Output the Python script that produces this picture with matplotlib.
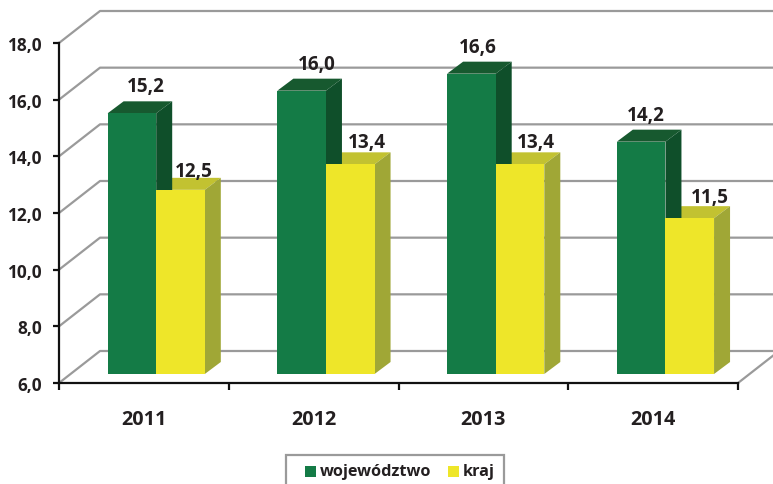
import matplotlib
matplotlib.use('Agg')
import numpy as np
import matplotlib.pyplot as plt
from matplotlib.patches import Polygon, Rectangle

plt.rcParams['font.family'] = ['Open Sans', 'DejaVu Sans']

years = ['2011', '2012', '2013', '2014']
wojewodztwo = [15.2, 16.0, 16.6, 14.2]
kraj = [12.5, 13.4, 13.4, 11.5]
y_ticks = [6, 8, 10, 12, 14, 16, 18]

W, H = 773, 485
LEFT, RIGHT, TOP, BOTTOM = 59, 738, 44, 384
TEXT = '#231f20'
GRID = '#9a9a9a'

fig = plt.figure(figsize=(W / 100, H / 100), dpi=100, facecolor='white')
ax = fig.add_axes([LEFT / W, 1 - BOTTOM / H, (RIGHT - LEFT) / W, (BOTTOM - TOP) / H])
ax.set_xlim(0, 4)
ax.set_ylim(6, 18)
ax.patch.set_alpha(0)

# pixel sizes expressed in data units
px_x = 4 / (RIGHT - LEFT)
px_y = 12 / (BOTTOM - TOP)
wall_dx, wall_dy = 41 * px_x, 32 * px_y
bar_w = 48.6 * px_x
bar_x0 = 48.6 * px_x
lift = 9 * px_y
side_dx, side_dy = 16 * px_x, 12 * px_y


# back wall / floor grid lines
for v in y_ticks:
    ax.plot([0, wall_dx, 4 + 2 * wall_dx], [v, v + wall_dy, v + wall_dy],
            color=GRID, lw=1.6, clip_on=False, zorder=1, solid_capstyle='butt')
ax.plot([4, 4 + wall_dx], [6, 6 + wall_dy], color=GRID, lw=1.6, clip_on=False, zorder=1)


def box(x, v, front, top, side):
    y0, y1 = 6 + lift, v + lift
    x1 = x + bar_w
    ax.add_patch(Polygon([(x, y1), (x1, y1), (x1 + side_dx, y1 + side_dy), (x + side_dx, y1 + side_dy)],
                         fc=top, ec='none', clip_on=False, zorder=3))
    ax.add_patch(Polygon([(x1, y0), (x1 + side_dx, y0 + side_dy), (x1 + side_dx, y1 + side_dy), (x1, y1)],
                         fc=side, ec='none', clip_on=False, zorder=3))
    ax.bar(x, v - 6, bottom=y0, width=bar_w, align='edge', color=front,
           edgecolor='none', clip_on=False, zorder=4)


# label offsets in pixels from the front top left corner of each bar
label_dx_g = [38, 39, 31, 29]
label_dx_k = [38, 41, 40, 44]
label_dy_k = [19, 22, 22, 21]
for i in range(4):
    xg = i + bar_x0
    xk = xg + bar_w
    box(xk, kraj[i], '#eee629', '#c2c231', '#a0a736')
    box(xg, wojewodztwo[i], '#147b46', '#17592f', '#0f4f2a')
    ax.annotate(f'{wojewodztwo[i]:.1f}'.replace('.', ','), (xg, wojewodztwo[i] + lift),
                xytext=(label_dx_g[i] * 0.72, 27 * 0.72), textcoords='offset points',
                ha='center', va='center', fontsize=13.6, fontweight='bold', color=TEXT,
                annotation_clip=False, zorder=6)
    ax.annotate(f'{kraj[i]:.1f}'.replace('.', ','), (xk, kraj[i] + lift),
                xytext=(label_dx_k[i] * 0.72, label_dy_k[i] * 0.72), textcoords='offset points',
                ha='center', va='center', fontsize=13.6, fontweight='bold', color=TEXT,
                annotation_clip=False, zorder=6)

for s in ['top', 'right']:
    ax.spines[s].set_visible(False)
for s in ['left', 'bottom']:
    ax.spines[s].set_linewidth(1.6)
    ax.spines[s].set_color('#111111')
    ax.spines[s].set_zorder(5)

ax.set_yticks(y_ticks)
ax.set_yticklabels([f'{v:.1f}'.replace('.', ',') for v in y_ticks],
                   fontsize=12.4, fontweight='bold', color=TEXT)
ax.tick_params(axis='y', length=4.5, width=1.6, color='#111111', pad=8)

ax.set_xticks(range(5))
ax.set_xticklabels([])
ax.set_xticks(np.arange(4) + 0.5, minor=True)
ax.set_xticklabels(years, minor=True, fontsize=14.2, fontweight='bold', color=TEXT)
ax.tick_params(axis='x', which='major', length=5, width=1.6, color='#111111')
ax.tick_params(axis='x', which='minor', length=0, pad=18.5)

# legend box runs past the bottom edge of the picture
fig.add_artist(Rectangle((286 / W, -0.02), 218 / W, 1.02 - 456 / H, transform=fig.transFigure,
                         fc='white', ec='#9a9a9a', lw=1.6))
fig.add_artist(Rectangle((305 / W, 1 - 478 / H), 11 / W, 11 / H, transform=fig.transFigure,
                         fc='#147b46', ec='none'))
fig.add_artist(Rectangle((448 / W, 1 - 478 / H), 11 / W, 11 / H, transform=fig.transFigure,
                         fc='#eee629', ec='none'))
fig.text(320 / W, 1 - 472.5 / H, 'województwo', ha='left', va='center', fontsize=11.7,
         fontweight='bold', color=TEXT)
fig.text(463 / W, 1 - 472.5 / H, 'kraj', ha='left', va='center', fontsize=11.7,
         fontweight='bold', color=TEXT)

fig.savefig('out.png', dpi=100, facecolor='white')
